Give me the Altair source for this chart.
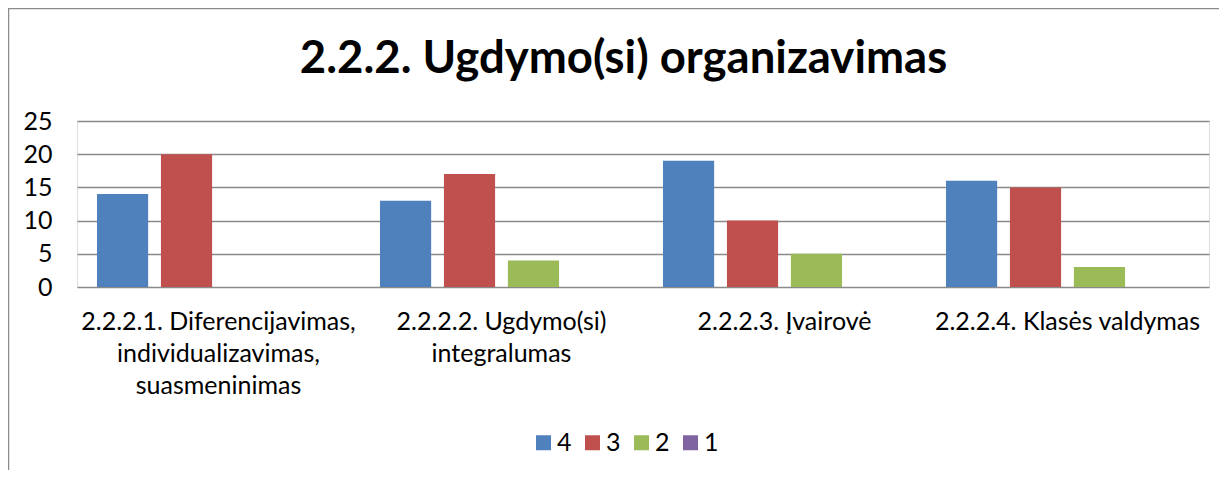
import altair as alt
import pandas as pd

categories = [
    "2.2.2.1. Diferencijavimas,|individualizavimas,|suasmeninimas",
    "2.2.2.2. Ugdymo(si)|integralumas",
    "2.2.2.3. Įvairovė",
    "2.2.2.4. Klasės valdymas",
]
series = ["4", "3", "2", "1"]
values_4 = [14, 13, 19, 16]
values_3 = [20, 17, 10, 15]
values_2 = [0, 4, 5, 3]
values_1 = [0, 0, 0, 0]
colors = ["#4F81BD", "#C0504D", "#9BBB59", "#8064A2"]
y_ticks = [0, 5, 10, 15, 20, 25]
title_text = "2.2.2. Ugdymo(si) organizavimas"

rows = []
for s, vals in zip(series, [values_4, values_3, values_2, values_1]):
    for c, v in zip(categories, vals):
        rows.append({"category": c, "series": s, "value": v})
df = pd.DataFrame(rows)

FONT = "Lato"
GRID = "#8a8a8a"

bars = alt.Chart(df).mark_bar().encode(
    x=alt.X(
        "category:N",
        sort=categories,
        scale=alt.Scale(paddingInner=0, paddingOuter=0),
        axis=alt.Axis(
            title=None,
            labelAngle=0,
            labelExpr="split(datum.label, '|')",
            labelFont=FONT,
            labelFontSize=25,
            labelColor="#000000",
            labelLineHeight=32,
            labelPadding=22,
            labelLimit=0,
            domain=False,
            ticks=False,
        ),
    ),
    xOffset=alt.XOffset(
        "series:N",
        sort=series,
        scale=alt.Scale(paddingInner=0.2, paddingOuter=0.3125),
    ),
    y=alt.Y(
        "value:Q",
        scale=alt.Scale(domain=[0, 25]),
        axis=alt.Axis(
            title=None,
            values=y_ticks,
            labelFont=FONT,
            labelFontSize=25,
            labelColor="#000000",
            labelPadding=25,
            grid=True,
            gridColor=GRID,
            gridWidth=1.6,
            domain=False,
            ticks=False,
        ),
    ),
    color=alt.Color(
        "series:N",
        sort=series,
        scale=alt.Scale(domain=series, range=colors),
        legend=alt.Legend(
            orient="none",
            legendX=454,
            legendY=309,
            direction="horizontal",
            title=None,
            symbolType="square",
            symbolSize=225,
            symbolStrokeWidth=0,
            labelFont=FONT,
            labelFontSize=25,
            labelColor="#000000",
            labelOffset=1,
            columnPadding=8,
            padding=0,
        ),
    ),
)

frame_data = alt.Data(values=[{"k": 1}])
left_border = alt.Chart(frame_data).mark_rule(color="#8c8c8c", strokeWidth=1.5).encode(
    x=alt.value(-68.5), y=alt.value(-113), y2=alt.value(400)
)
top_border = alt.Chart(frame_data).mark_rule(color="#8c8c8c", strokeWidth=1.5).encode(
    x=alt.value(-69), x2=alt.value(1200), y=alt.value(-112.5)
)
title_mark = alt.Chart(frame_data).mark_text(
    font=FONT,
    fontSize=45.5,
    fontWeight="bold",
    color="#000000",
    align="center",
    baseline="alphabetic",
).encode(
    x=alt.value(546.5), y=alt.value(-48), text=alt.value(title_text)
)

chart = (
    alt.layer(bars, left_border, top_border, title_mark)
    .properties(
        width=1132,
        height=166,
        autosize=alt.AutoSizeParams(type="none"),
        padding={"left": 69, "top": 113, "right": 10, "bottom": 183},
    )
    .configure_view(stroke=None)
    .configure(background="white")
)

chart.save("out.html", embed_options={"renderer": "svg", "actions": False})
